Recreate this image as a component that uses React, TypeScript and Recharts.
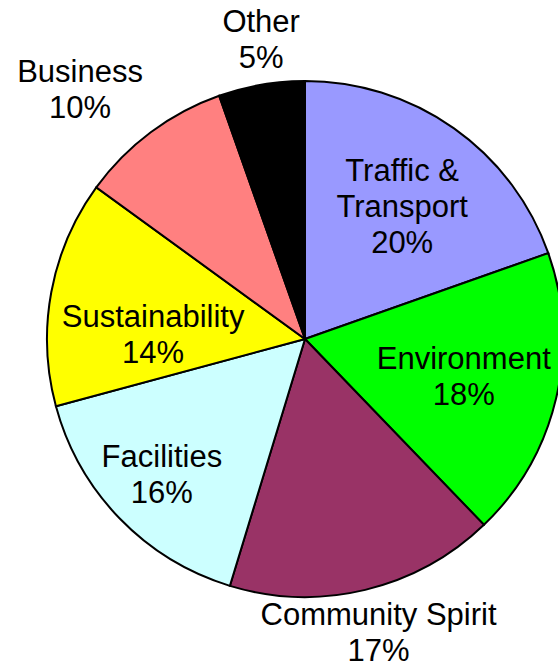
import React from "react";
import { PieChart, Pie, Cell } from "recharts";

const categories = [
  "Traffic &\nTransport",
  "Environment",
  "Community Spirit",
  "Facilities",
  "Sustainability",
  "Business",
  "Other",
];
const shares = [19.6, 18.2, 16.9, 16.1, 14.2, 9.6, 5.4];
const colors = ["#9999FF", "#00FF00", "#993366", "#CCFFFF", "#FFFF00", "#FF8080", "#000000"];

// label placement: radius from centre and angle tweak relative to slice mid-angle
const labelRadius = [165, 163, 302, 197, 152, 336, 303];
const labelAngleShift = [-0.8, 0.2, 0.6, -0.7, 8.4, 5.3, -1.4];

const data = categories.map((name, i) => ({ name, value: shares[i] }));

const RAD = Math.PI / 180;
const FONT = 31;
const LINE = 36;

const renderLabel = (props: any) => {
  const { cx, cy, midAngle, index, percent } = props;
  const a = (midAngle + labelAngleShift[index]) * RAD;
  const r = labelRadius[index];
  const x = cx + r * Math.cos(-a);
  const y = cy + r * Math.sin(-a);
  const lines = [...categories[index].split("\n"), `${Math.round(percent * 100)}%`];
  const first = y + 11 - ((lines.length - 1) * LINE) / 2;
  return (
    <text
      key={`lbl-${index}`}
      x={x}
      y={first}
      textAnchor="middle"
      fill="#000"
      fontSize={FONT}
      fontFamily="'Liberation Sans', Arial, sans-serif"
    >
      {lines.map((t, i) => (
        <tspan key={i} x={x} y={first + i * LINE}>
          {t}
        </tspan>
      ))}
    </text>
  );
};

export default function App() {
  return (
    <div style={{ position: "absolute", left: 0, top: 0, width: 558, height: 667, background: "#fff" }}>
      <PieChart width={558} height={667} margin={{ top: 0, right: 0, bottom: 0, left: 0 }}>
        <Pie
          data={data}
          dataKey="value"
          nameKey="name"
          cx={305}
          cy={339}
          outerRadius={258}
          startAngle={90}
          endAngle={-270}
          stroke="#000"
          strokeWidth={2}
          label={renderLabel}
          labelLine={false}
          isAnimationActive={false}
        >
          {data.map((d, i) => (
            <Cell key={i} fill={colors[i]} />
          ))}
        </Pie>
      </PieChart>
    </div>
  );
}
